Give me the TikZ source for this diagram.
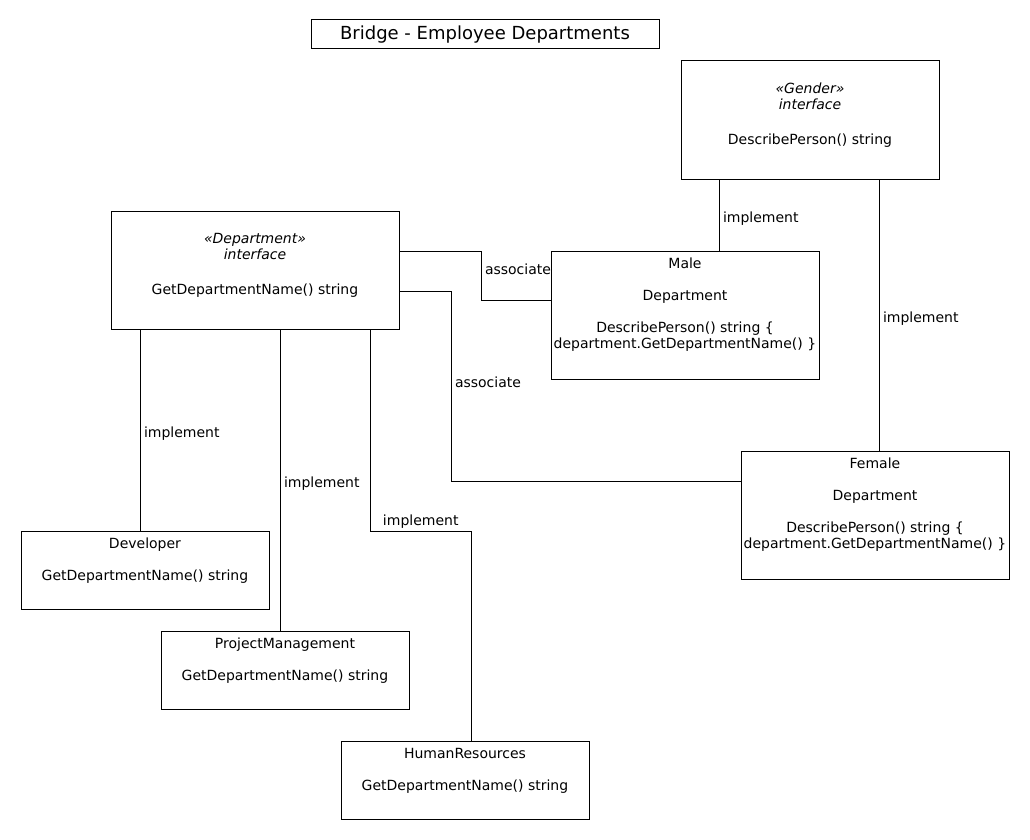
\documentclass[tikz,border=0pt]{standalone}
\usepackage{fontspec}
\setmainfont{DejaVu Sans}
\usetikzlibrary{positioning}

\tikzset{
  box/.style={draw, rectangle, inner sep=0pt},
  boxtext/.style={anchor=north, align=center, inner sep=0pt, font=\fontsize{14}{16}\selectfont},
  lbl/.style={font=\fontsize{14}{16}\selectfont, inner sep=3pt},
}

\begin{document}
\begin{tikzpicture}[x=1pt,y=-1pt,line width=1pt]
\useasboundingbox (0,0) rectangle (1030,840);

% title
\node[box, minimum width=348, minimum height=29, font=\fontsize{18}{20}\selectfont] (title) at (485,34.5) {Bridge - Employee Departments};

% interfaces
\node[box, minimum width=258, minimum height=118] (gender) at (810,120) {};
\node[boxtext] (gender-txt) at ([yshift=-22]gender.north) {{\itshape «Gender»}\\{\itshape interface}\\[19pt]DescribePerson() string};

\node[box, minimum width=288, minimum height=118] (dept) at (255,270) {};
\node[boxtext] (dept-txt) at ([yshift=-22]dept.north) {{\itshape «Department»}\\{\itshape interface}\\[19pt]GetDepartmentName() string};

% gender implementations
\node[box, minimum width=268, minimum height=128] (male) at (685,315) {};
\node[boxtext] (male-txt) at ([yshift=-7]male.north) {Male\\[16pt]Department\\[16pt]DescribePerson() string \{\\department.GetDepartmentName() \}};

\node[box, minimum width=268, minimum height=128] (female) at (875,515) {};
\node[boxtext] (female-txt) at ([yshift=-7]female.north) {Female\\[16pt]Department\\[16pt]DescribePerson() string \{\\department.GetDepartmentName() \}};

% department implementations
\node[box, minimum width=248, minimum height=78] (dev) at (145,570) {};
\node[boxtext] (dev-txt) at ([yshift=-7]dev.north) {Developer\\[16pt]GetDepartmentName() string};

\node[box, minimum width=248, minimum height=78] (pm) at (285,670) {};
\node[boxtext] (pm-txt) at ([yshift=-7]pm.north) {ProjectManagement\\[16pt]GetDepartmentName() string};

\node[box, minimum width=248, minimum height=78] (hr) at (465,780) {};
\node[boxtext] (hr-txt) at ([yshift=-7]hr.north) {HumanResources\\[16pt]GetDepartmentName() string};

% connectors
\draw ([xshift=39]gender.south west) -- node[lbl, anchor=west, yshift=-4] (impl-male) {implement} ([xshift=39]gender.south west |- male.north);
\draw ([xshift=199]gender.south west) -- node[lbl, anchor=west, yshift=-4] (impl-female) {implement} ([xshift=199]gender.south west |- female.north);

\draw ([yshift=19]dept.east) -- ++(82,0) |- node[lbl, pos=0.19, anchor=west] (assoc-male) {associate} ([yshift=15]male.west);
\draw ([yshift=-21]dept.east) -- ++(52,0) |- node[lbl, pos=0.24, anchor=west] (assoc-female) {associate} ([yshift=34]female.west);

\draw ([xshift=30]dept.south west) -- node[lbl, anchor=west, yshift=-4] (impl-dev) {implement} ([xshift=30]dept.south west |- dev.north);
\draw ([xshift=170]dept.south west) -- node[lbl, anchor=west, yshift=-4] (impl-pm) {implement} ([xshift=170]dept.south west |- pm.north);
\draw ([xshift=260]dept.south west) -- ++(0,202) -| node[lbl, pos=0.25, anchor=south] (impl-hr) {implement} ([xshift=6]hr.north);
\end{tikzpicture}
\end{document}
